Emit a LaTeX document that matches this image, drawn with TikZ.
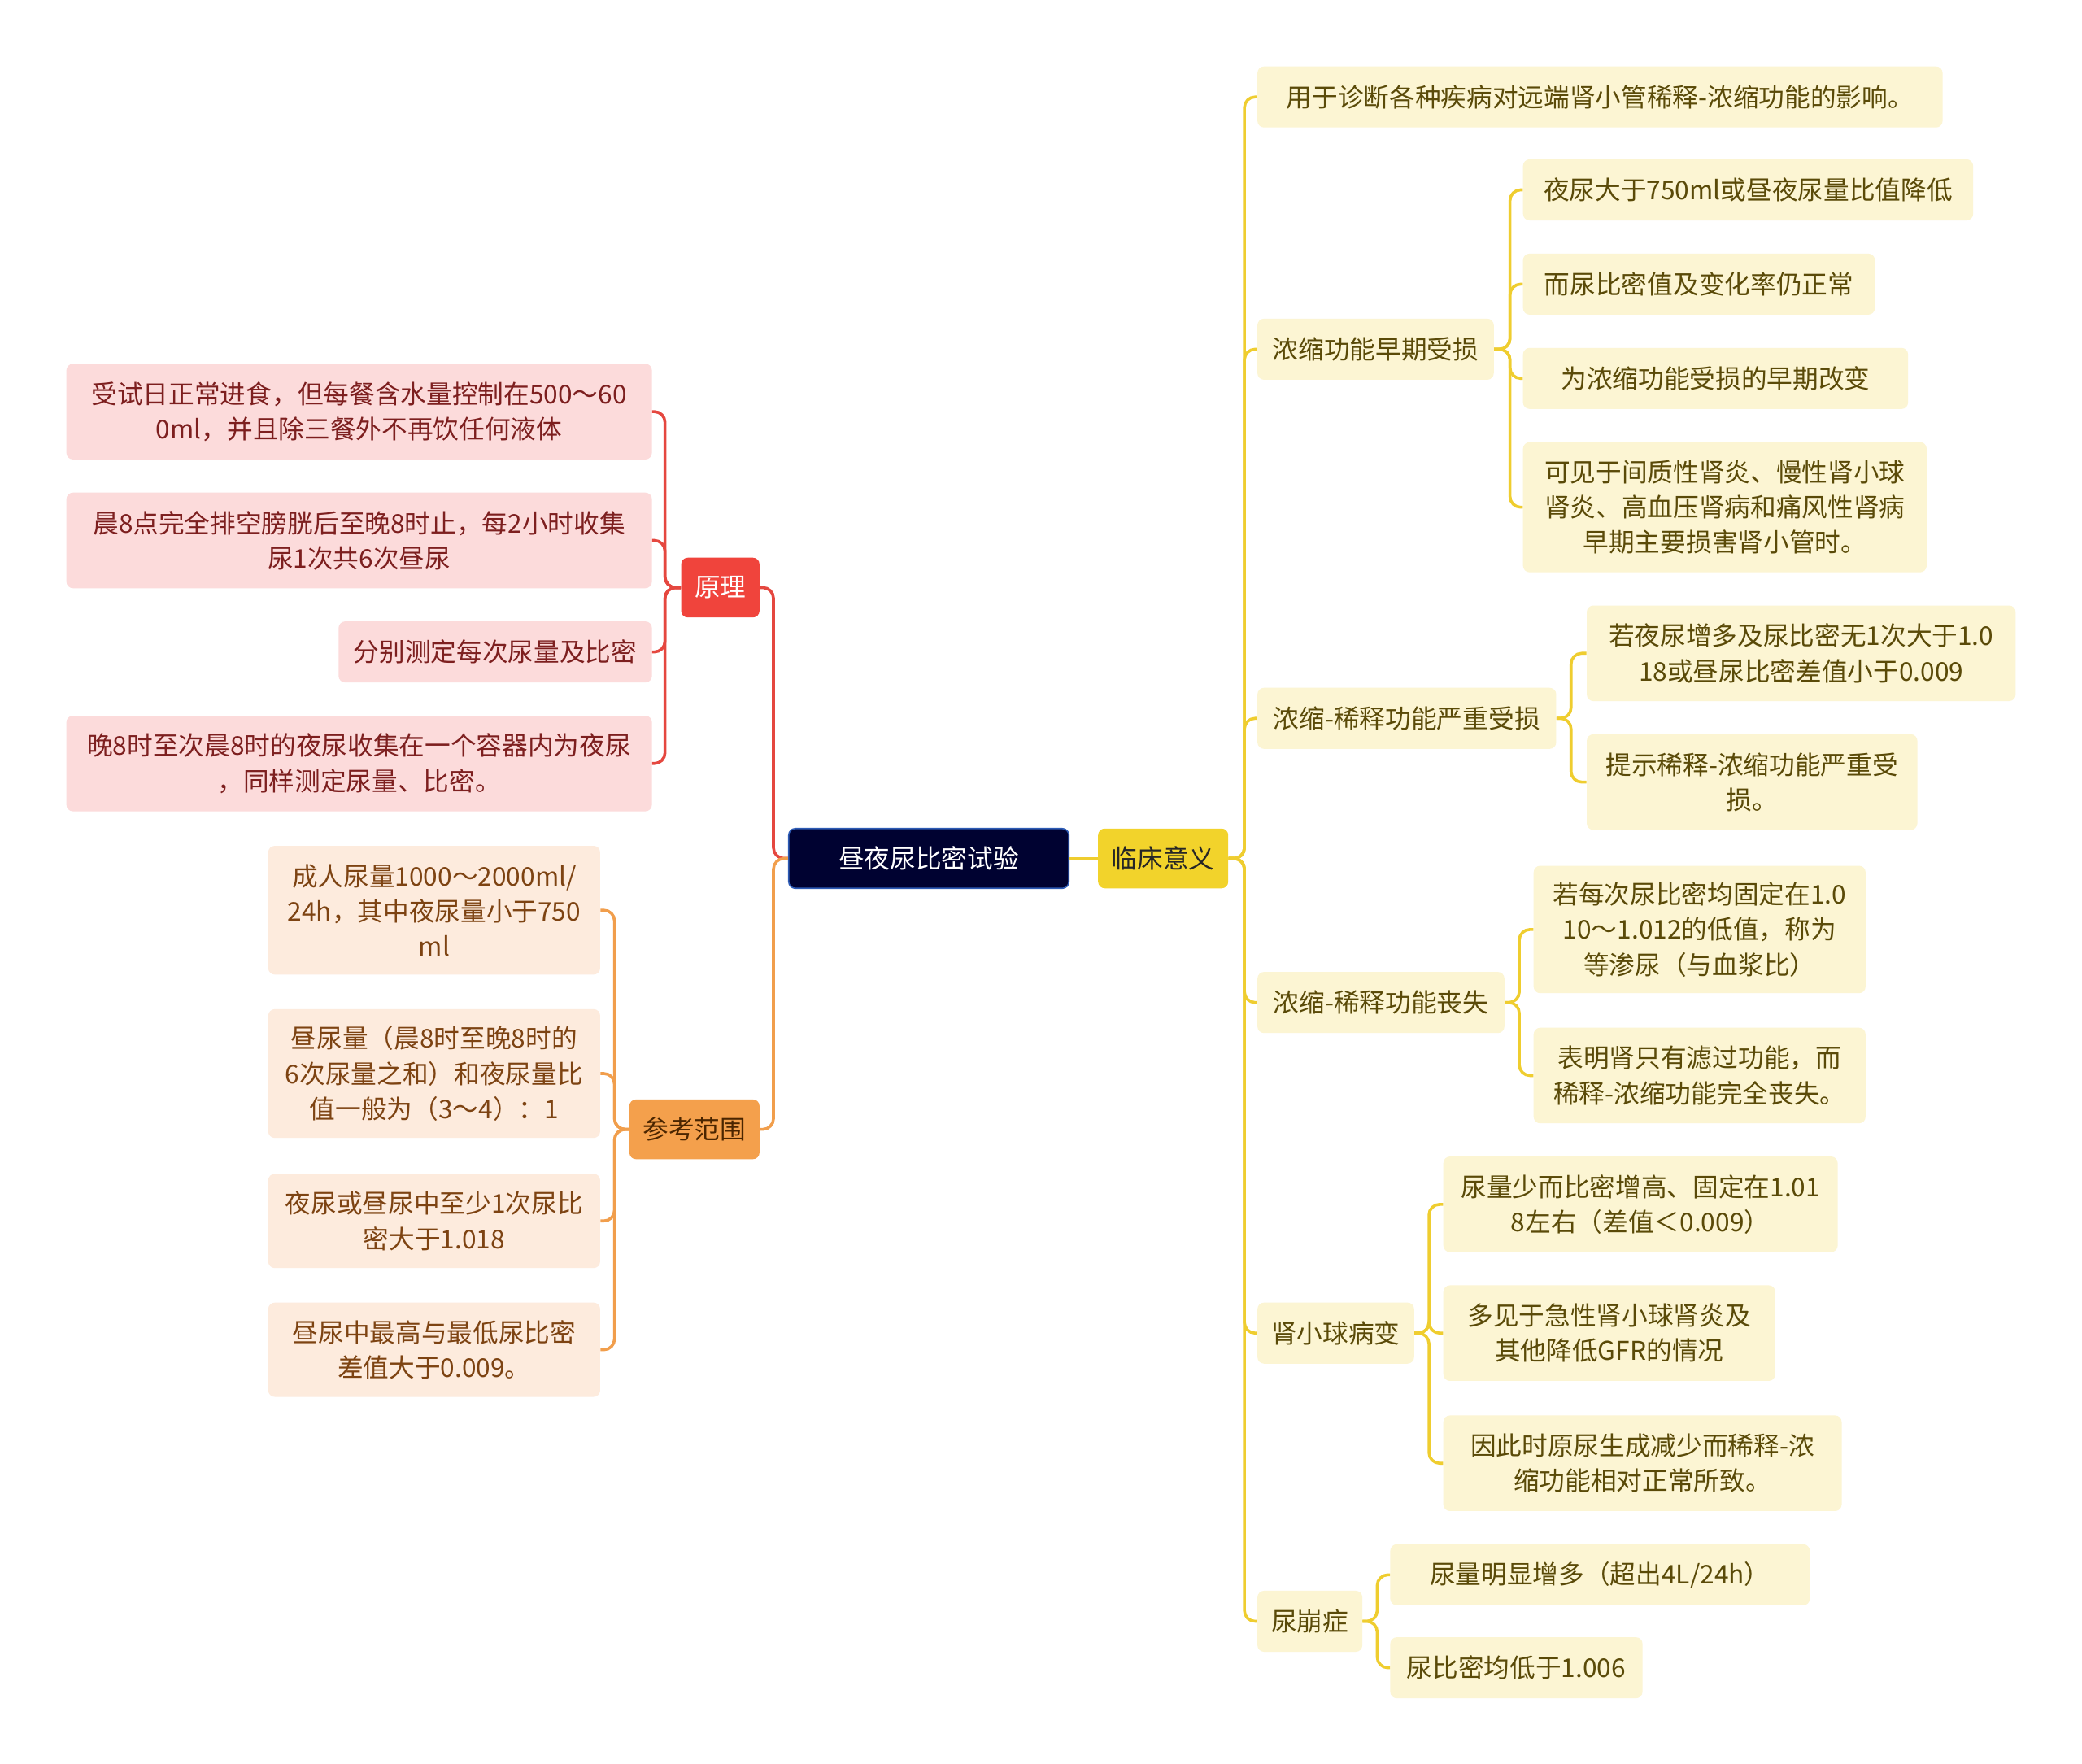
\documentclass[tikz,border=0pt]{standalone}
\usepackage{fontspec}
\setmainfont{Noto Sans CJK SC}
\definecolor{rootfill}{HTML}{000231}
\definecolor{rootdraw}{HTML}{2D5BB5}
\definecolor{redline}{HTML}{E5473F}
\definecolor{redfill}{HTML}{F0443C}
\definecolor{pinkfill}{HTML}{FCDBDB}
\definecolor{pinktext}{HTML}{7D1F1F}
\definecolor{orline}{HTML}{F19E4C}
\definecolor{orfill}{HTML}{F4A04C}
\definecolor{ortext}{HTML}{4A2500}
\definecolor{peachfill}{HTML}{FDEBDD}
\definecolor{peachtext}{HTML}{7D4312}
\definecolor{ylline}{HTML}{EFCD2F}
\definecolor{ylfill}{HTML}{F2D32B}
\definecolor{creamfill}{HTML}{FCF5D3}
\definecolor{creamtext}{HTML}{5A4A08}
\begin{document}
\begin{tikzpicture}[x=1pt,y=-1pt,
  box/.style={rounded corners=5pt, inner sep=0pt, align=center, font=\fontsize{19.4}{26.5}\selectfont},
  rootbox/.style={box, fill=rootfill, draw=rootdraw, line width=1pt, text=white},
  redbox/.style={box, fill=redfill, text=white},
  orbox/.style={box, fill=orfill, text=ortext},
  ylbox/.style={box, fill=ylfill, text=black!85},
  pk/.style={box, fill=pinkfill, text=pinktext},
  pc/.style={box, fill=peachfill, text=peachtext},
  cr/.style={box, fill=creamfill, text=creamtext},
  conn/.style={line width=2.2pt, rounded corners=8pt},
  rl/.style={conn, draw=redline},
  ol/.style={conn, draw=orline},
  yline/.style={conn, draw=ylline},
  sz/.style 2 args={minimum width=#1pt, minimum height=#2pt}
]
\fill[white] (0,0) rectangle (1568,1328.5);
\useasboundingbox (0,0) rectangle (1568,1328.5);

% central
\node[rootbox, sz={211}{45}] (root) at (699.5,646.5) {昼夜尿比密试验};
\node[ylbox, sz={98}{45}] (lc) at (876,646.5) {临床意义};
\node[redbox, sz={59}{45}] (yl) at (542.5,442.5) {原理};
\node[orbox, sz={98}{45}] (ck) at (523,850.5) {参考范围};

% 原理 children
\node[pk, sz={441}{72}] (p1) at (270.5,310) {受试日正常进食，但每餐含水量控制在500～60\\0ml，并且除三餐外不再饮任何液体};
\node[pk, sz={441}{72}] (p2) at (270.5,407) {晨8点完全排空膀胱后至晚8时止，每2小时收集\\尿1次共6次昼尿};
\node[pk, sz={236}{46}] (p3) at (373,491) {分别测定每次尿量及比密};
\node[pk, sz={441}{72}] (p4) at (270.5,575) {晚8时至次晨8时的夜尿收集在一个容器内为夜尿\\，同样测定尿量、比密。};

% 参考范围 children
\node[pc, sz={250}{97}] (c1) at (327,685.5) {成人尿量1000～2000ml/\\24h，其中夜尿量小于750\\ml};
\node[pc, sz={250}{97}] (c2) at (327,808.5) {昼尿量（晨8时至晚8时的\\6次尿量之和）和夜尿量比\\值一般为（3～4）：1};
\node[pc, sz={250}{71}] (c3) at (327,919.5) {夜尿或昼尿中至少1次尿比\\密大于1.018};
\node[pc, sz={250}{71}] (c4) at (327,1016.5) {昼尿中最高与最低尿比密\\差值大于0.009。};

% 临床意义 children
\node[cr, sz={516}{46}] (r1) at (1205,73) {用于诊断各种疾病对远端肾小管稀释-浓缩功能的影响。};
\node[cr, sz={178}{46}] (r2) at (1036,263) {浓缩功能早期受损};
\node[cr, sz={339}{46}] (r2a) at (1316.5,143) {夜尿大于750ml或昼夜尿量比值降低};
\node[cr, sz={265}{46}] (r2b) at (1279.5,214) {而尿比密值及变化率仍正常};
\node[cr, sz={290}{46}] (r2c) at (1292,285) {为浓缩功能受损的早期改变};
\node[cr, sz={304}{98}] (r2d) at (1299,382) {可见于间质性肾炎、慢性肾小球\\肾炎、高血压肾病和痛风性肾病\\早期主要损害肾小管时。};
\node[cr, sz={225}{46}] (r3) at (1059.5,541) {浓缩-稀释功能严重受损};
\node[cr, sz={323}{72}] (r3a) at (1356.5,492) {若夜尿增多及尿比密无1次大于1.0\\18或昼尿比密差值小于0.009};
\node[cr, sz={249}{72}] (r3b) at (1319.5,589) {提示稀释-浓缩功能严重受\\损。};
\node[cr, sz={186}{46}] (r4) at (1040,755) {浓缩-稀释功能丧失};
\node[cr, sz={250}{96}] (r4a) at (1280,700) {若每次尿比密均固定在1.0\\10～1.012的低值，称为\\等渗尿（与血浆比）};
\node[cr, sz={250}{72}] (r4b) at (1280,810) {表明肾只有滤过功能，而\\稀释-浓缩功能完全丧失。};
\node[cr, sz={118}{46}] (r5) at (1006,1004) {肾小球病变};
\node[cr, sz={297}{72}] (r5a) at (1235.5,907) {尿量少而比密增高、固定在1.01\\8左右（差值＜0.009）};
\node[cr, sz={250}{72}] (r5b) at (1212,1004) {多见于急性肾小球肾炎及\\其他降低GFR的情况};
\node[cr, sz={300}{72}] (r5c) at (1237,1102) {因此时原尿生成减少而稀释-浓\\缩功能相对正常所致。};
\node[cr, sz={79}{46}] (r6) at (986.5,1221) {尿崩症};
\node[cr, sz={316}{46}] (r6a) at (1205,1186) {尿量明显增多（超出4L/24h）};
\node[cr, sz={190}{46}] (r6b) at (1142,1256) {尿比密均低于1.006};

% connectors: root
\draw[rl] (root.west) -- ++(-11,0) |- (yl.east);
\draw[ol] (root.west) -- ++(-11,0) |- (ck.east);
\draw[yline] (root.east) -- (lc.west);

% 原理
\foreach \c in {p1,p2,p3,p4} \draw[rl] (yl.west) -- ++(-12,0) |- (\c.east);
% 参考范围
\foreach \c in {c1,c2,c3,c4} \draw[ol] (ck.west) -- ++(-11,0) |- (\c.east);
% 临床意义
\foreach \c in {r1,r2,r3,r4,r5,r6} \draw[yline] (lc.east) -- ++(12,0) |- (\c.west);
\foreach \c in {r2a,r2b,r2c,r2d} \draw[yline] (r2.east) -- ++(12,0) |- (\c.west);
\foreach \c in {r3a,r3b} \draw[yline] (r3.east) -- ++(11,0) |- (\c.west);
\foreach \c in {r4a,r4b} \draw[yline] (r4.east) -- ++(11,0) |- (\c.west);
\foreach \c in {r5a,r5b,r5c} \draw[yline] (r5.east) -- ++(11,0) |- (\c.west);
\foreach \c in {r6a,r6b} \draw[yline] (r6.east) -- ++(11,0) |- (\c.west);
\end{tikzpicture}
\end{document}
